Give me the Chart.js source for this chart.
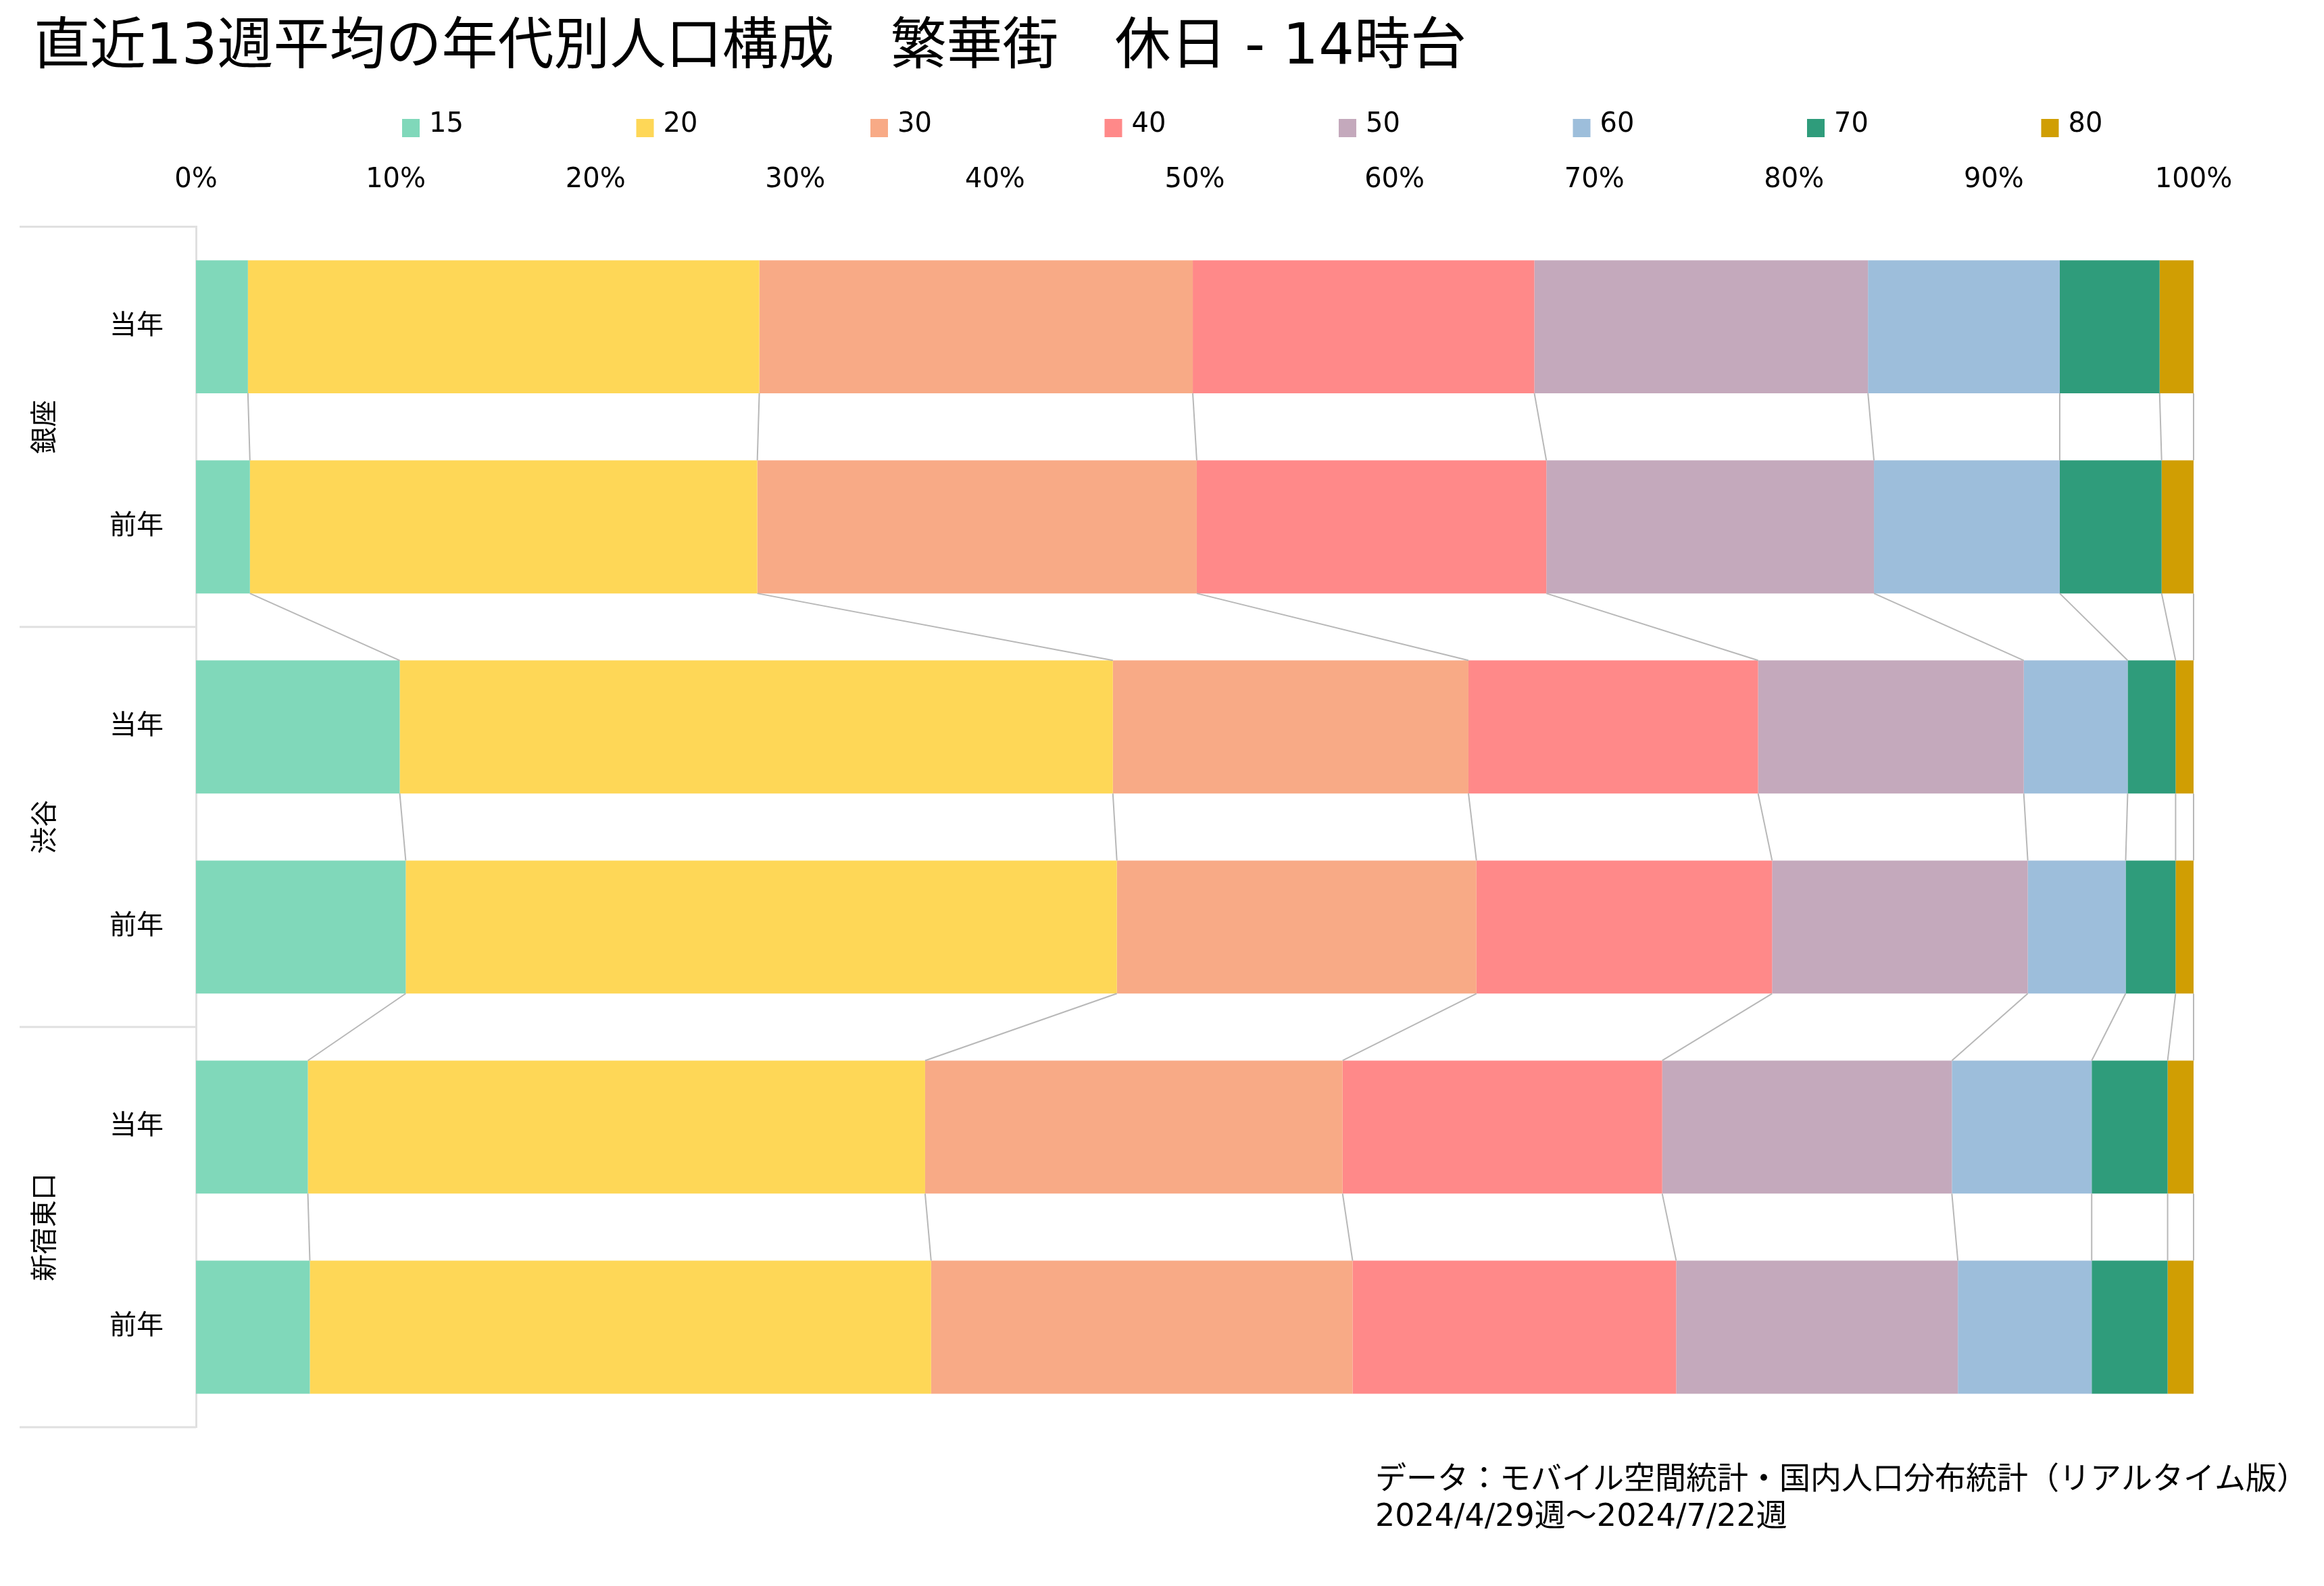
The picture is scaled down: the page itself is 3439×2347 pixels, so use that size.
<!DOCTYPE html>
<html lang="ja">
<head>
<meta charset="utf-8">
<title>直近13週平均の年代別人口構成</title>
<script src="https://cdn.jsdelivr.net/npm/chart.js"></script>
<style>
  html, body { margin: 0; padding: 0; background: #fff; }
  #wrap { width: 3439px; height: 2347px; }
</style>
</head>
<body>
<div id="wrap"><canvas id="barChart"></canvas></div>
<script>
const FONT = '"DejaVu Sans", "Noto Sans CJK JP", sans-serif';

// rows top to bottom
const rowLabels = ['当年', '前年', '当年', '前年', '当年', '前年'];
const areaNames = ['銀座', '渋谷', '新宿東口'];
const ageLabels = ['15', '20', '30', '40', '50', '60', '70', '80'];
const ageColors = ['#80d8ba', '#fed757', '#f8aa86', '#ff8989', '#c4a9bc', '#9dbedb', '#2f9c7b', '#d09e03'];
const pctTicks = ['0%', '10%', '20%', '30%', '40%', '50%', '60%', '70%', '80%', '90%', '100%'];

const age15 = [2.6, 2.7, 10.2, 10.5, 5.6, 5.7];
const age20 = [25.6, 25.4, 35.7, 35.6, 30.9, 31.1];
const age30 = [21.7, 22.0, 17.8, 18.0, 20.9, 21.1];
const age40 = [17.1, 17.5, 14.5, 14.8, 16.0, 16.2];
const age50 = [16.7, 16.4, 13.3, 12.8, 14.5, 14.1];
const age60 = [9.6, 9.3, 5.2, 4.9, 7.0, 6.7];
const age70 = [5.0, 5.1, 2.4, 2.5, 3.8, 3.8];
const age80 = [1.7, 1.6, 0.9, 0.9, 1.3, 1.3];

const titleText = '直近13週平均の年代別人口構成\u3000繁華街\u3000休日 - 14時台';
const sourceNote = ['データ：モバイル空間統計・国内人口分布統計（リアルタイム版）', '2024/4/29週～2024/7/22週'];

const series = [age15, age20, age30, age40, age50, age60, age70, age80];

// grey lines joining the segment edges of neighbouring bars
const flowLines = {
    id: 'flowLines',
    afterDatasetsDraw(chart) {
        const ctx = chart.ctx;
        ctx.save();
        ctx.strokeStyle = '#b8b8b8';
        ctx.lineWidth = 2;
        chart.data.datasets.forEach((ds, k) => {
            const bars = chart.getDatasetMeta(k).data;
            for (let i = 0; i < bars.length - 1; i++) {
                const a = bars[i], b = bars[i + 1];
                ctx.beginPath();
                ctx.moveTo(a.x, a.y + a.height / 2);
                ctx.lineTo(b.x, b.y - b.height / 2);
                ctx.stroke();
            }
        });
        ctx.restore();
    }
};

// area names (rotated) and the separators of the two-level axis
const areaAxis = {
    id: 'areaAxis',
    afterDraw(chart) {
        const { ctx, chartArea: { left }, scales: { y } } = chart;
        const per = rowLabels.length / areaNames.length;
        const half = (y.getPixelForValue(1) - y.getPixelForValue(0)) / 2;
        ctx.save();
        ctx.strokeStyle = '#e0e0e0';
        ctx.lineWidth = 3;
        for (let g = 0; g <= areaNames.length; g++) {
            const yy = g < areaNames.length
                ? y.getPixelForValue(g * per) - half
                : y.getPixelForValue(g * per - 1) + half;
            ctx.beginPath();
            ctx.moveTo(29, yy);
            ctx.lineTo(left, yy);
            ctx.stroke();
        }
        ctx.fillStyle = '#000';
        ctx.font = '40px ' + FONT;
        ctx.textAlign = 'center';
        ctx.textBaseline = 'middle';
        areaNames.forEach((name, g) => {
            const mid = (y.getPixelForValue(g * per) + y.getPixelForValue(g * per + per - 1)) / 2;
            ctx.save();
            ctx.translate(69, mid);
            ctx.rotate(-Math.PI / 2);
            ctx.fillText(name, 0, 0);
            ctx.restore();
        });
        ctx.restore();
    }
};

// legend in one evenly spaced row
const legendRow = {
    id: 'legendRow',
    afterDraw(chart) {
        const ctx = chart.ctx;
        ctx.save();
        ctx.font = '40px ' + FONT;
        ctx.textBaseline = 'middle';
        chart.data.datasets.forEach((ds, k) => {
            const x = 595 + k * 346.5;
            ctx.fillStyle = ds.backgroundColor;
            ctx.fillRect(x, 176, 26, 27);
            ctx.fillStyle = '#000';
            ctx.fillText(ds.label, x + 40, 185);
        });
        ctx.restore();
    }
};

const sourceText = {
    id: 'sourceText',
    afterDraw(chart) {
        const ctx = chart.ctx;
        ctx.save();
        ctx.font = '46px ' + FONT;
        ctx.fillStyle = '#000';
        ctx.textBaseline = 'middle';
        sourceNote.forEach((line, i) => ctx.fillText(line, 2035, 2191 + i * 55));
        ctx.restore();
    }
};

const ctx = document.getElementById('barChart').getContext('2d');

new Chart(ctx, {
    type: 'bar',
    data: {
        labels: rowLabels,
        datasets: series.map((vals, k) => ({
            label: ageLabels[k],
            data: vals,
            backgroundColor: ageColors[k],
            borderWidth: 0,
            barPercentage: 1,
            categoryPercentage: 0.665
        }))
    },
    options: {
        indexAxis: 'y',
        responsive: true,
        maintainAspectRatio: false,
        animation: false,
        layout: {
            padding: { top: 23, left: 50, right: 193, bottom: 235 }
        },
        scales: {
            x: {
                position: 'top',
                stacked: true,
                min: 0,
                max: 100,
                grid: { display: false },
                border: { display: false },
                ticks: {
                    stepSize: 10,
                    padding: 37,
                    color: '#000',
                    font: { family: FONT, size: 40 },
                    callback: (value, index) => pctTicks[index]
                }
            },
            y: {
                stacked: true,
                grid: { display: false, drawTicks: false },
                border: { display: true, color: '#e0e0e0', width: 3 },
                ticks: {
                    padding: 48,
                    color: '#000',
                    font: { family: FONT, size: 40 }
                },
                afterFit: (scale) => { scale.width = 240; }
            }
        },
        plugins: {
            legend: { display: false },
            tooltip: { enabled: false },
            title: {
                display: true,
                text: titleText,
                align: 'start',
                color: '#000',
                font: { family: FONT, size: 83, weight: 'normal' },
                padding: { top: 0, bottom: 83 }
            }
        }
    },
    plugins: [flowLines, areaAxis, legendRow, sourceText]
});
</script>
</body>
</html>
